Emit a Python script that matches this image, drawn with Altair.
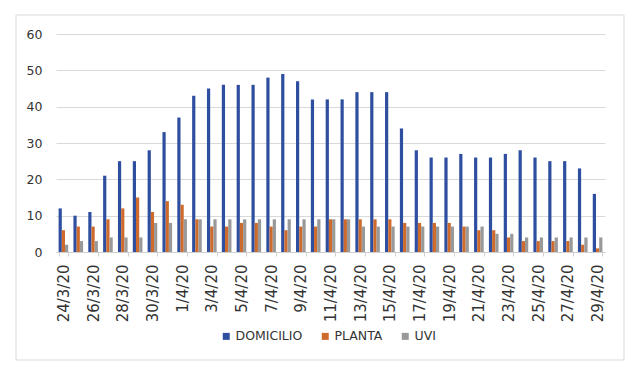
import altair as alt
import pandas as pd

dates = ["24/3/20", "25/3/20", "26/3/20", "27/3/20", "28/3/20", "29/3/20", "30/3/20", "31/3/20",
         "1/4/20", "2/4/20", "3/4/20", "4/4/20", "5/4/20", "6/4/20", "7/4/20", "8/4/20", "9/4/20",
         "10/4/20", "11/4/20", "12/4/20", "13/4/20", "14/4/20", "15/4/20", "16/4/20", "17/4/20",
         "18/4/20", "19/4/20", "20/4/20", "21/4/20", "22/4/20", "23/4/20", "24/4/20", "25/4/20",
         "26/4/20", "27/4/20", "28/4/20", "29/4/20"]
domicilio = [12, 10, 11, 21, 25, 25, 28, 33,
             37, 43, 45, 46, 46, 46, 48, 49, 47, 42, 42, 42, 44, 44, 44, 34, 28,
             26, 26, 27, 26, 26, 27, 28, 26, 25, 25, 23, 16]
planta = [6, 7, 7, 9, 12, 15, 11, 14,
          13, 9, 7, 7, 8, 8, 7, 6, 7, 7, 9, 9, 9, 9, 9, 8, 8,
          8, 8, 7, 6, 6, 4, 3, 3, 3, 3, 2, 1]
uvi = [2, 3, 3, 4, 4, 4, 8, 8,
       9, 9, 9, 9, 9, 9, 9, 9, 9, 9, 9, 9, 7, 7, 7, 7, 7,
       7, 7, 7, 7, 5, 5, 4, 4, 4, 4, 4, 4]
series = ["DOMICILIO", "PLANTA", "UVI"]
colors = ["#2E4FA0", "#CD6A2C", "#999999"]
y_ticks = [0, 10, 20, 30, 40, 50, 60]
x_labels = dates[::2]

rows = []
for name, vals in zip(series, [domicilio, planta, uvi]):
    for d, v in zip(dates, vals):
        rows.append({"fecha": d, "serie": name, "valor": v})
df = pd.DataFrame(rows)

FONT = "DejaVu Sans"

bars = alt.Chart(df).mark_bar().encode(
    x=alt.X("fecha:N", sort=dates, title=None,
            scale=alt.Scale(paddingInner=0.35, paddingOuter=0.175),
            axis=alt.Axis(values=x_labels, labelAngle=-90, labelFont=FONT, labelFontSize=15,
                          labelColor="#333333", tickBand="extent", tickSize=4,
                          tickColor="#d0d0d0", domainColor="#d0d0d0", labelPadding=8,
                          grid=False)),
    xOffset=alt.XOffset("serie:N", sort=series),
    y=alt.Y("valor:Q", stack=None, title=None,
            scale=alt.Scale(domain=[0, 60]),
            axis=alt.Axis(values=y_ticks, labelFont=FONT, labelFontSize=12.5,
                          labelColor="#333333", ticks=False, domain=False,
                          gridColor="#d9d9d9", labelPadding=14)),
    color=alt.Color("serie:N", sort=series,
                    scale=alt.Scale(domain=series, range=colors),
                    legend=alt.Legend(title=None, orient="none", direction="horizontal",
                                      legendX=164, legendY=296, symbolType="square",
                                      symbolSize=49, symbolStrokeWidth=0, labelFont=FONT,
                                      labelFontSize=12.5, labelColor="#333333",
                                      labelOffset=3, columnPadding=16)),
)

border = alt.Chart(pd.DataFrame({"a": [0]})).mark_rect(
    fillOpacity=0, stroke="#d9d9d9", strokeWidth=1
).encode(x=alt.value(-40), x2=alt.value(568), y=alt.value(-19), y2=alt.value(326))

chart = alt.layer(border, bars).properties(
    width=549, height=218,
    background="white",
    autosize=alt.AutoSizeParams(type="none"),
    padding={"left": 48, "top": 26, "right": 27, "bottom": 110},
).configure_view(strokeWidth=0, stroke="transparent")

chart.save("out.html", embed_options={"renderer": "svg", "actions": False})
